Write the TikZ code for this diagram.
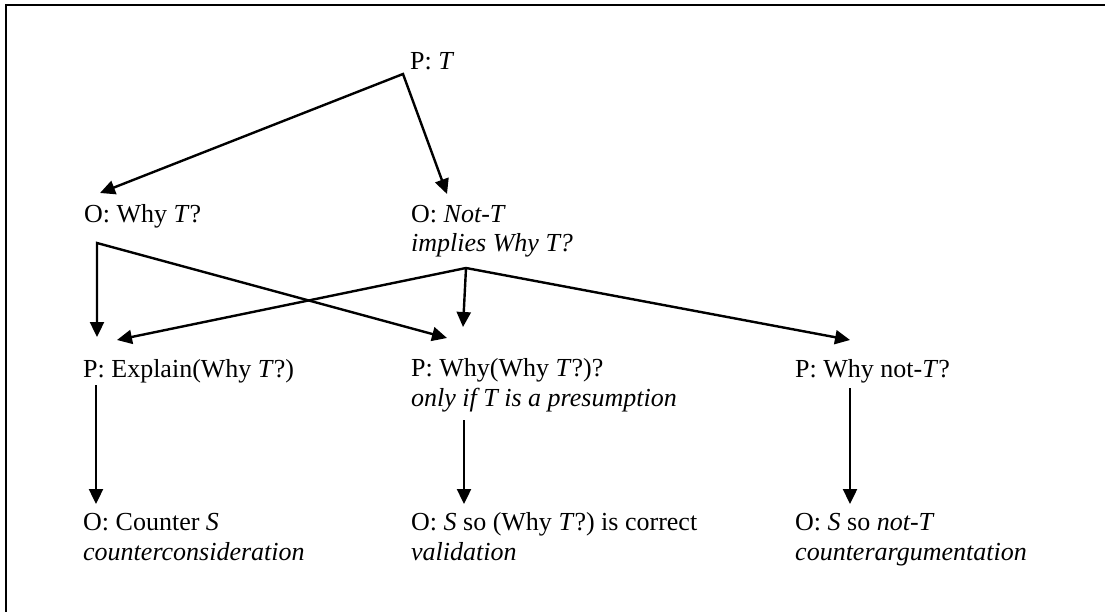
\documentclass[tikz,border=0pt]{standalone}
\usepackage{fontspec}
\setmainfont{Liberation Serif}
\usetikzlibrary{arrows.meta}
\tikzset{
  move/.style={anchor=base west,inner sep=0pt,align=left,
    font=\fontsize{26}{29.5}\selectfont},
  reply/.style={line width=2.4pt,-{Triangle[length=15pt,width=14pt]}},
  replies/.style={line width=2.4pt,
    {Triangle[length=15pt,width=14pt]}-{Triangle[length=15pt,width=14pt]}}
}
\begin{document}
\begin{tikzpicture}[x=1pt,y=-1pt]
  \useasboundingbox (0,0) rectangle (1105,612);
  \draw[line width=2.4pt] (6,5) rectangle (1120,630);
  % the moves of the dialogue (multi-line ones sit on their last line)
  \node[move] (pT) at (410,70) {P: \textit{T}};
  \node[move] (oWhy) at (84,223) {O: Why \textit{T}?};
  \node[move] (oNot) at (411,252) {O: \textit{Not-T}\\\textit{implies Why T?}};
  \node[move] (pExp) at (83,377) {P: Explain(Why \textit{T}?)};
  \node[move] (pWhyWhy) at (411,406) {P: Why(Why \textit{T}?)?\\\textit{only if T is a presumption}};
  \node[move] (pWhyNot) at (795,377) {P: Why not-\textit{T}?};
  \node[move] (oCounter) at (83,560) {O: Counter \textit{S}\\\textit{counterconsideration}};
  \node[move] (oValid) at (411,560) {O: \textit{S} so (Why \textit{T}?) is correct\\\textit{validation}};
  \node[move] (oArg) at (795,560) {O: \textit{S} so \textit{not-T}\\\textit{counterargumentation}};
  % branching points
  \coordinate (jT) at (403,74);
  \coordinate (jWhy) at (97,243);
  \coordinate (jNot) at (466,268);
  % replies
  \draw[replies] ([shift={(16,-30)}]oWhy.base west) -- (jT)
    -- ([shift={(36,-58)}]oNot.base west);
  \draw[replies] ([shift={(14,-40)}]pExp.base west) -- (jWhy)
    -- ([shift={(36,-68)}]pWhyWhy.base west);
  \draw[replies] ([shift={(34,-37)}]pExp.base west) -- (jNot)
    -- ([shift={(55,-37)}]pWhyNot.base west);
  \draw[reply] (jNot) -- ([shift={(52,-79)}]pWhyWhy.base west);
  \foreach \a/\b/\dx/\dy in {pExp/oCounter/13/8,pWhyWhy/oValid/53/14,pWhyNot/oArg/55/11} {
    \draw[reply] ([shift={(\dx,\dy)}]\a.base west) -- ([shift={(\dx,-56)}]\b.base west);
  }
\end{tikzpicture}
\end{document}
